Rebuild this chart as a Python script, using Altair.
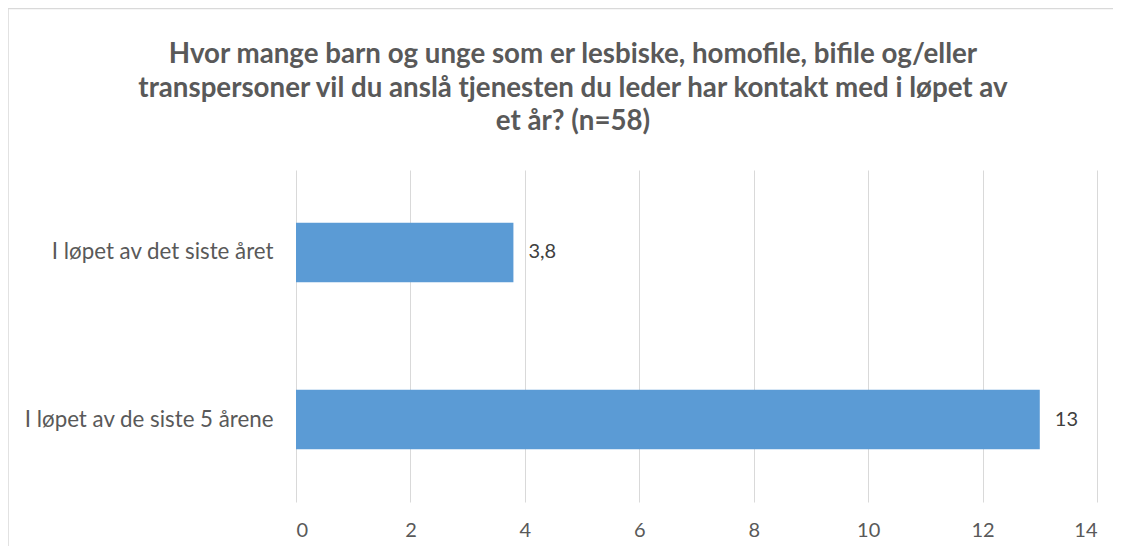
import altair as alt
import pandas as pd

categories = ["I løpet av det siste året", "I løpet av de siste 5 årene"]
values = [3.8, 13]
value_labels = ["3,8", "13"]
x_ticks = [0, 2, 4, 6, 8, 10, 12, 14]
title_lines = [
    "Hvor mange barn og unge som er lesbiske, homofile, bifile og/eller",
    "transpersoner vil du anslå tjenesten du leder har kontakt med i løpet av",
    "et år? (n=58)",
]

df = pd.DataFrame({"cat": categories, "val": values, "lab": value_labels})

FONT = "Lato"
GRAY = "#595959"

y_enc = alt.Y(
    "cat:N",
    sort=categories,
    scale=alt.Scale(paddingInner=0.644, paddingOuter=0.316),
    axis=alt.Axis(
        title=None, domain=False, ticks=False, grid=False,
        labelFont=FONT, labelFontSize=22.3, labelColor=GRAY, labelPadding=23,
        labelLimit=400,
    ),
)
x_enc = alt.X(
    "val:Q",
    scale=alt.Scale(domain=[0, 14], nice=False),
    axis=alt.Axis(
        title=None, values=x_ticks, format="d", domain=False, ticks=False,
        grid=True, gridColor="#d9d9d9", gridWidth=1,
        labelFont=FONT, labelFontSize=20, labelColor=GRAY, labelPadding=18,
    ),
)

dummy = pd.DataFrame({"a": [0]})

border = alt.Chart(dummy).mark_rect(
    fill=None, stroke="#d9d9d9", strokeWidth=1.5, clip=False
).encode(
    x=alt.value(-288), x2=alt.value(900),
    y=alt.value(-161.5), y2=alt.value(600),
)

title = alt.Chart(dummy).mark_text(
    text=title_lines, font=FONT, fontSize=27.7, fontWeight="bold", color=GRAY,
    align="center", baseline="alphabetic", lineHeight=33.5,
).encode(x=alt.value(277), y=alt.value(-107))

bars = alt.Chart(df).mark_bar(color="#5B9BD5").encode(x=x_enc, y=y_enc)
text = alt.Chart(df).mark_text(
    align="left", baseline="middle", dx=15, font=FONT, fontSize=20, color="#404040"
).encode(x="val:Q", y=alt.Y("cat:N", sort=categories), text="lab:N")

chart = alt.layer(border, title, bars, text).properties(
    width=801,
    height=332,
    autosize=alt.AutoSizeParams(type="none"),
    padding={"left": 288, "top": 162, "right": 16, "bottom": 44},
).configure_view(stroke=None)

chart.save("out.html", embed_options={"renderer": "svg", "actions": False})
